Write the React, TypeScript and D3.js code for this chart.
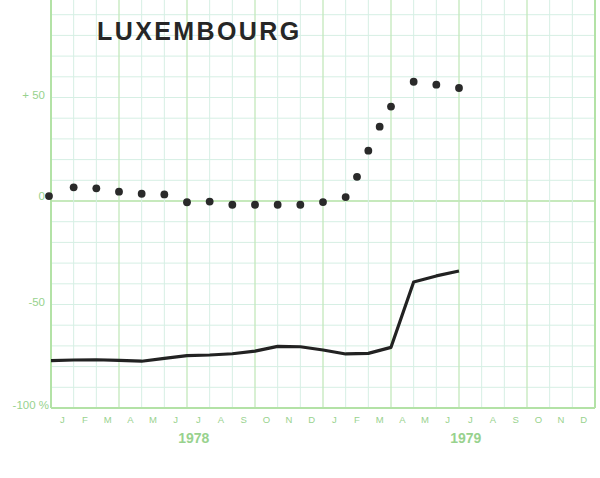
import React from 'react';
import * as d3 from 'd3';

// month letters, two years (Jan 1978 - Dec 1979)
const MONTH_LETTERS = ["J", "F", "M", "A", "M", "J", "J", "A", "S", "O", "N", "D"];
const YEARS = ["1978", "1979"];

// dotted series: position in months from Jan 1978, value in %
const dotMonths = [0, 1, 2, 3, 4, 5, 6, 7, 8, 9, 10, 11, 12, 13, 13.5, 14, 14.5, 15, 16, 17, 18];
const dotValues = [2.4, 6.6, 6.1, 4.5, 3.5, 3.2, -0.6, -0.3, -1.8, -1.8, -1.8, -1.8, -0.5, 1.9, 11.7, 24.3, 35.9, 45.6, 57.6, 56.2, 54.6];

// solid line series
const lineMonths = [0, 1, 2, 3, 4, 5, 6, 7, 8, 9, 10, 11, 12, 13, 14, 15, 16, 17, 18];
const lineValues = [-77.1, -76.8, -76.7, -77.0, -77.4, -76.0, -74.7, -74.4, -73.8, -72.5, -70.2, -70.4, -72.0, -73.9, -73.6, -70.7, -39.1, -36.2, -33.8];

const yTickValues = [50, 0, -50, -100];
const yTickLabels = ["+ 50", "0", "-50", "-100 %"];

const AXIS_GREEN = "#b3e2a6";
const GRID = "#d6efe4";
const LABEL_GREEN = "#98d28e";

export default function App() {
    const width = 600;
    const height = 478;

    const x = d3.scaleLinear().domain([0, 24]).range([51, 595]);
    const y = d3.scaleLinear().domain([-100, 100]).range([408, -6]);

    const monthGrid = d3.range(1, 24);
    const hGrid = d3.range(-90, 100, 10);

    const line = d3.line<number>()
        .x((d, i) => x(lineMonths[i]))
        .y(d => y(d));

    const allMonths = [...MONTH_LETTERS, ...MONTH_LETTERS];

    return (
        <svg width={width} height={height} style={{ position: "absolute", left: 0, top: 0, background: "#fff" }}>
            {/* horizontal grid */}
            {hGrid.map(v => (
                <line key={"h" + v} x1={x(0)} x2={x(24)} y1={y(v)} y2={y(v)}
                    stroke={v === 0 ? AXIS_GREEN : GRID} strokeWidth={v === 0 ? 1.6 : 1} />
            ))}
            {/* vertical grid, quarters stronger */}
            {monthGrid.map(m => (
                <line key={"v" + m} x1={x(m)} x2={x(m)} y1={0} y2={y(-100)}
                    stroke={m % 3 === 0 ? "#c3e8bc" : GRID} strokeWidth={m % 3 === 0 ? 1.3 : 1} />
            ))}
            {/* frame */}
            <line x1={x(0)} x2={x(0)} y1={0} y2={y(-100)} stroke={AXIS_GREEN} strokeWidth={2} />
            <line x1={x(24)} x2={x(24)} y1={0} y2={y(-100)} stroke={AXIS_GREEN} strokeWidth={2} />
            <line x1={x(0)} x2={x(24)} y1={y(-100)} y2={y(-100)} stroke={AXIS_GREEN} strokeWidth={2} />

            {/* y labels */}
            {yTickValues.map((v, i) => (
                <text key={"yl" + v} x={v === -100 ? 49 : 45} y={y(v) + (v === 0 ? -4 : -2)}
                    textAnchor="end" dominantBaseline="middle" fill={LABEL_GREEN}
                    fontFamily="Liberation Sans, Arial, sans-serif" fontSize={11.5}>
                    {yTickLabels[i]}
                </text>
            ))}

            {/* month letters */}
            {allMonths.map((mLetter, i) => (
                <text key={"m" + i} x={x(i + 0.5)} y={423} textAnchor="middle" fill={LABEL_GREEN}
                    fontFamily="Liberation Sans, Arial, sans-serif" fontSize={9.5}>
                    {mLetter}
                </text>
            ))}

            {/* years */}
            {YEARS.map((yr, i) => (
                <text key={yr} x={x(i * 12 + 6.3)} y={443} textAnchor="middle" fill={LABEL_GREEN}
                    fontFamily="Liberation Sans, Arial, sans-serif" fontWeight="bold" fontSize={14}>
                    {yr}
                </text>
            ))}

            {/* title */}
            <text x={97} y={40} fill="#262626" fontFamily="Liberation Sans, Arial, sans-serif"
                fontWeight="bold" fontSize={25} letterSpacing={2.4}>LUXEMBOURG</text>

            {/* solid series */}
            <path d={line(lineValues) || ""} fill="none" stroke="#222" strokeWidth={3.2} strokeLinejoin="round" />

            {/* dotted series */}
            {dotValues.map((v, i) => (
                <circle key={"d" + i} cx={x(dotMonths[i]) - (i === 0 ? 2 : 0)} cy={y(v)} r={3.9} fill="#2a2a2a" />
            ))}
        </svg>
    );
}
